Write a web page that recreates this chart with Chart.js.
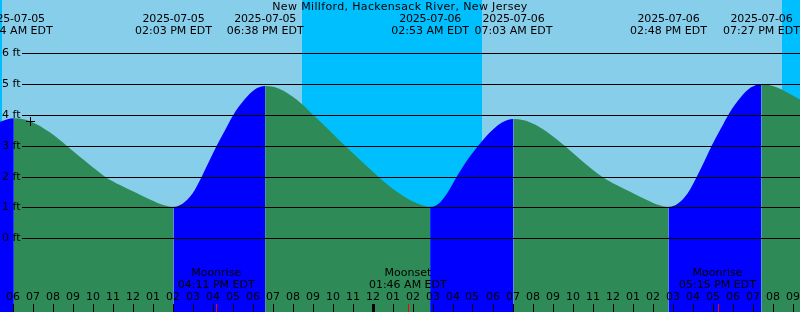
<!DOCTYPE html>
<html>
<head>
<meta charset="utf-8">
<script src="https://cdn.jsdelivr.net/npm/chart.js@4.4.1/dist/chart.umd.min.js"></script>
<style>
  html, body { margin: 0; padding: 0; background: #87ceeb; }
  #wrap { width: 800px; height: 312px; }
</style>
</head>
<body>
<div id="wrap"><canvas id="tide"></canvas></div>
<script>
const stationName = 'New Millford, Hackensack River, New Jersey';

// hours counted from 2025-07-05 00:00 EDT, water level in feet
const tideHours = [
  5.375, 5.75, 6.067,
  6.6, 7.2, 7.9, 8.71, 9.6, 10.625, 11.4, 12.1, 12.9, 13.5, 14.05,
  14.5, 15.0, 15.46, 15.85, 16.21, 16.62, 17.04, 17.6, 18.1, 18.633,
  19.3, 20.2, 21.04, 21.85, 22.625, 23.45, 24.29, 25.2, 26.0, 26.5, 26.883,
  27.3, 27.75, 28.21, 28.75, 29.29, 29.85, 30.45, 31.05,
  31.57, 32.15, 32.83, 33.62, 34.48, 35.48, 36.23, 36.91, 37.69, 38.27, 38.8,
  39.26, 39.76, 40.23, 40.63, 40.99, 41.41, 41.84, 42.4, 42.91, 43.45,
  44.2, 45.375
];
const tideFeet = [
  3.78, 3.86, 3.89,
  3.85, 3.7, 3.42, 3.0, 2.52, 2.0, 1.72, 1.5, 1.25, 1.09, 1.02,
  1.12, 1.45, 2.0, 2.52, 3.0, 3.5, 4.0, 4.5, 4.82, 4.94,
  4.86, 4.5, 4.0, 3.5, 3.0, 2.5, 2.0, 1.52, 1.2, 1.07, 1.02,
  1.12, 1.48, 2.0, 2.55, 3.0, 3.42, 3.75, 3.87,
  3.83, 3.68, 3.4, 2.99, 2.51, 2.0, 1.72, 1.5, 1.25, 1.09, 1.02,
  1.12, 1.46, 2.02, 2.55, 3.04, 3.55, 4.06, 4.57, 4.89, 5.0,
  4.9, 4.5
];

// high / low water events
const eventHours = [6.067, 14.05, 18.633, 26.883, 31.05, 38.8, 43.45];
const eventDates = ['2025-07-05', '2025-07-05', '2025-07-05', '2025-07-06', '2025-07-06', '2025-07-06', '2025-07-06'];
const eventTimes = ['06:04 AM EDT', '02:03 PM EDT', '06:38 PM EDT', '02:53 AM EDT', '07:03 AM EDT', '02:48 PM EDT', '07:27 PM EDT'];

// night = sunset .. sunrise
const nightStart = [0, 20.475, 44.475];
const nightEnd = [5.475, 29.475, 48];

const moonHours = [16.183, 25.767, 41.25];
const moonEvents = ['Moonrise', 'Moonset', 'Moonrise'];
const moonTimes = ['04:11 PM EDT', '01:46 AM EDT', '05:15 PM EDT'];

const hourTicks = [];
for (let h = 6; h <= 45; h++) hourTicks.push(h);
const feetTicks = [0, 1, 2, 3, 4, 5, 6];

// "now" marker
const nowHour = 6.9;
const nowFeet = 3.79;

const DAY = '#87ceeb';
const NIGHT = '#00bfff';
const RISING = '#0000ff';
const FALLING = '#2e8b57';
const FONT = '11px "DejaVu Sans"';

function hourLabel(h) {
    return String(h % 12 || 12).padStart(2, '0');
}

const tideDecor = {
    id: 'tideDecor',
    beforeDatasetsDraw(chart) {
        const { ctx, chartArea: a, scales: { x } } = chart;
        ctx.save();
        ctx.fillStyle = DAY;
        ctx.fillRect(a.left, a.top, a.right - a.left, a.bottom - a.top);
        ctx.fillStyle = NIGHT;
        nightStart.forEach((s, i) => {
            const x0 = Math.max(x.getPixelForValue(s), a.left);
            const x1 = Math.min(x.getPixelForValue(nightEnd[i]), a.right);
            if (x1 > x0) ctx.fillRect(x0, a.top, x1 - x0, a.bottom - a.top);
        });
        ctx.restore();
    },
    afterDatasetsDraw(chart) {
        const { ctx, chartArea: a, scales: { x, y } } = chart;
        ctx.save();
        ctx.font = FONT;
        ctx.fillStyle = '#000';
        ctx.strokeStyle = '#000';
        ctx.lineWidth = 1;

        // level lines
        ctx.textAlign = 'left';
        ctx.textBaseline = 'middle';
        feetTicks.forEach(f => {
            const py = Math.round(y.getPixelForValue(f)) + 0.5;
            ctx.beginPath();
            ctx.moveTo(22, py);
            ctx.lineTo(a.right, py);
            ctx.stroke();
            ctx.fillText(f + ' ft', 2, py);
        });

        // title and tide events
        ctx.textAlign = 'center';
        ctx.letterSpacing = '0.35px';
        ctx.fillText(stationName, 400, 7);
        eventHours.forEach((h, i) => {
            const px = x.getPixelForValue(h);
            ctx.letterSpacing = '-0.2px';
            ctx.fillText(eventDates[i], px, 19);
            ctx.letterSpacing = '0px';
            ctx.fillText(eventTimes[i], px, 31.5);
        });

        // moon events
        moonHours.forEach((h, i) => {
            const px = x.getPixelForValue(h);
            ctx.fillText(moonEvents[i], px, 273);
            ctx.fillText(moonTimes[i], px, 285.5);
        });

        // hour ticks
        hourTicks.forEach(h => {
            const px = Math.round(x.getPixelForValue(h));
            ctx.fillText(hourLabel(h), px, 297.5);
            const midnight = h % 24 === 0;
            ctx.fillRect(midnight ? px - 1 : px, 304, midnight ? 3 : 1, a.bottom - 304);
        });
        ctx.fillStyle = '#ff0000';
        moonHours.forEach(h => {
            const px = Math.round(x.getPixelForValue(h));
            ctx.fillRect(px, 304, 1, a.bottom - 304);
        });

        // now marker on top
        const nx = Math.floor(x.getPixelForValue(nowHour)) + 0.5;
        const ny = Math.floor(y.getPixelForValue(nowFeet)) + 0.5;
        ctx.beginPath();
        ctx.moveTo(nx - 4.5, ny);
        ctx.lineTo(nx + 4.5, ny);
        ctx.moveTo(nx, ny - 4.5);
        ctx.lineTo(nx, ny + 4.5);
        ctx.stroke();
        ctx.restore();
    }
};

new Chart(document.getElementById('tide'), {
    type: 'line',
    data: {
        datasets: [{
            data: tideHours.map((h, i) => ({ x: h, y: tideFeet[i] })),
            borderWidth: 0,
            borderColor: 'transparent',
            pointRadius: 0,
            cubicInterpolationMode: 'monotone',
            fill: 'start',
            backgroundColor: FALLING,
            segment: {
                backgroundColor: c => c.p1.parsed.y > c.p0.parsed.y ? RISING : FALLING
            }
        }]
    },
    options: {
        responsive: true,
        maintainAspectRatio: false,
        animation: false,
        events: [],
        layout: { padding: 0, autoPadding: false },
        plugins: { legend: { display: false }, tooltip: { enabled: false } },
        scales: {
            x: { type: 'linear', min: 5.375, max: 45.375, display: false },
            y: { min: -2.39, max: 7.729, display: false }
        }
    },
    plugins: [tideDecor]
});
</script>
</body>
</html>
